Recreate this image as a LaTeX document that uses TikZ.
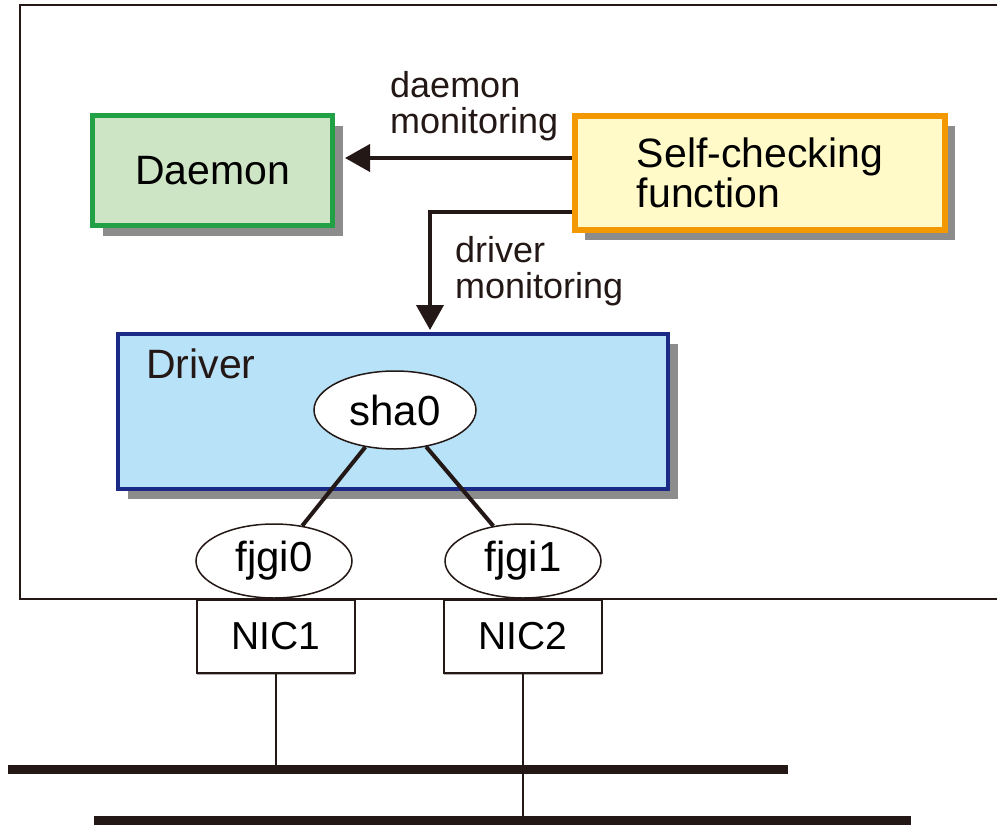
\documentclass[tikz,border=0pt]{standalone}
\usepackage{fontspec}
\setmainfont{Liberation Sans}
\definecolor{hbGreen}{RGB}{34,160,70}
\definecolor{hbGreenFill}{RGB}{205,229,196}
\definecolor{hbOrange}{RGB}{243,152,0}
\definecolor{hbOrangeFill}{RGB}{255,250,200}
\definecolor{hbBlue}{RGB}{28,42,135}
\definecolor{hbBlueFill}{RGB}{184,226,248}
\definecolor{hbShadow}{RGB}{140,140,140}
\definecolor{hbInk}{RGB}{35,24,21}
\usetikzlibrary{arrows.meta,positioning,shapes.geometric,shadows}

\begin{document}
\begin{tikzpicture}[x=1pt, y=-1pt,
  box/.style={draw, line width=5pt, font=\fontsize{41}{40}\selectfont, align=left,
              drop shadow={shadow xshift=10pt, shadow yshift=-10pt, fill=hbShadow, opacity=1}},
  port/.style={draw=hbInk, ellipse, line width=1.5pt, fill=white, inner sep=0pt,
               minimum width=156pt, minimum height=74pt, font=\fontsize{42}{42}\selectfont},
  nic/.style={draw=hbInk, line width=1.5pt, fill=white, minimum width=158pt,
              minimum height=73pt, font=\fontsize{39}{39}\selectfont,
              drop shadow={shadow xshift=0pt, shadow yshift=-2pt, fill=hbShadow!70, opacity=1}},
  lbl/.style={anchor=north west, inner sep=0pt, align=left, text=hbInk,
              font=\fontsize{36}{36}\selectfont},
  mon/.style={-{Triangle[length=25pt, width=27pt]}, line width=4pt, hbInk},
  bus/.style={line width=9pt, hbInk}
]
  \useasboundingbox (0,0) rectangle (997,825);

  % host frame
  \draw[line width=2pt, hbInk] (1000,5) -| (20,599) -- (1000,599);

  \node[box, draw=hbGreen, fill=hbGreenFill, minimum width=240pt, minimum height=110pt]
    (daemon) at (212.5,170.5) {Daemon};
  \node[box, draw=hbOrange, fill=hbOrangeFill, line width=6pt, minimum width=370pt,
    minimum height=114pt] (self) at (760,173) {Self-checking\\function};
  \node[box, draw=hbBlue, fill=hbBlueFill, line width=4pt, minimum width=550pt,
    minimum height=155pt] (driver) at (393,411.5) {};
  \node[inner sep=0pt, anchor=north west, font=\fontsize{41}{40}\selectfont, text=hbInk,
    below right=17pt and 30pt of driver.north west] (drivertxt) {Driver};

  \draw[mon, shorten >=10pt] ([yshift=15pt]self.west) -- ([yshift=15pt]self.west -| daemon.east);
  \node[lbl] (daemonlbl) at (390,71) {daemon\\monitoring};
  \draw[mon, shorten >=2pt] ([yshift=-39pt]self.west) -| ([xshift=37pt]driver.north);
  \node[lbl] (driverlbl) at (455,236) {driver\\monitoring};

  \node[port, minimum width=162pt, minimum height=78pt] (sha0) at (395,410) {sha0};
  \node[port] (fjgi0) at (274,561) {fjgi0};
  \node[port] (fjgi1) at (523,561) {fjgi1};
  \draw[line width=4pt, hbInk] (sha0) -- (fjgi0);
  \draw[line width=4pt, hbInk] (sha0) -- (fjgi1);

  \node[nic] (nic1) at (276,636.5) {NIC1};
  \node[nic] (nic2) at (523,636.5) {NIC2};

  % LAN
  \coordinate (lanA) at (8,769);
  \coordinate (lanB) at (94,820);
  \draw[line width=1.2pt, hbInk] (nic1.south) -- (nic1.south |- lanA);
  \draw[line width=1.2pt, hbInk] (nic2.south) -- (nic2.south |- lanB);
  \draw[bus] (lanA) -- (788,769);
  \draw[bus] (lanB) -- (911,820);
\end{tikzpicture}
\end{document}
